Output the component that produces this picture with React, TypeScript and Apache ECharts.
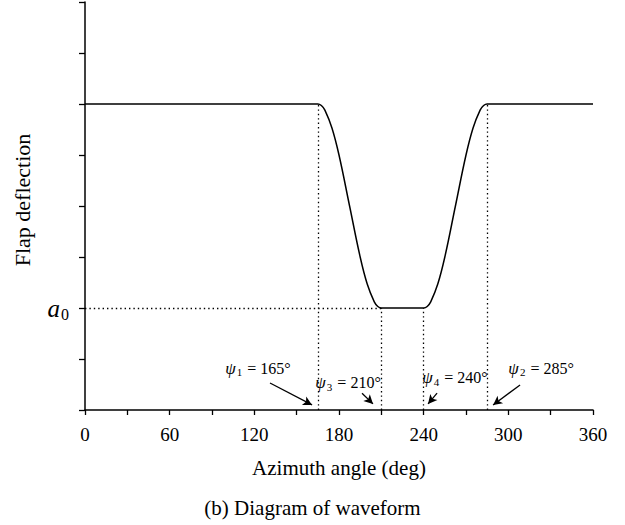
import React, { useEffect, useRef } from 'react';
import * as echarts from 'echarts';

// Waveform
const angles = [0, 165, 167.5, 170, 175, 180, 187.5, 195, 200, 205, 207.5, 210, 240, 242.5, 245, 250, 255, 262.5, 270, 275, 280, 282.5, 285, 360];
const deflection = [6, 6, 5.97, 5.88, 5.53, 5.0, 4.0, 3.0, 2.47, 2.12, 2.03, 2, 2, 2.03, 2.12, 2.47, 3.0, 4.0, 5.0, 5.53, 5.88, 5.97, 6, 6];

const xTickStep = 30;
const xLabelStep = 60;
const yTickStep = 1;
const a0Level = 2;

// Key angles psi_1..psi_4
const psiNames = ['1', '3', '4', '2'];
const psiAngles = [165, 210, 240, 285];
const psiLevels = [6, 2, 2, 6];
// annotation anchors (data coordinates)
const labelAt = [[122.6, 0.82], [186.4, 0.53], [262.2, 0.63], [323.2, 0.82]];
const arrowFrom = [[131.1, 0.53], [196.3, 0.33], [249.5, 0.33], [308.3, 0.49]];
const arrowTo = [[160.9, 0.1], [204.1, 0.12], [243.1, 0.12], [289.2, 0.1]];

const FONT = 'Liberation Serif';

export default function App() {
  const ref = useRef<HTMLDivElement>(null);
  useEffect(() => {
    document.body.style.margin = '0';
    if (!ref.current) return;
    const chart = echarts.init(ref.current, null, { renderer: 'svg' });
    const dotted = { type: [1.4, 3] as any, color: '#000', width: 1.3 };
    chart.setOption({
      animation: false,
      backgroundColor: '#fff',
      textStyle: { fontFamily: FONT, color: '#000' },
      title: {
        text: '(b) Diagram of waveform',
        left: 'center',
        top: 492,
        textStyle: { fontFamily: FONT, fontSize: 21, fontWeight: 'normal', color: '#000' },
      },
      grid: { left: 85, right: 32, top: 2, bottom: 115 },
      xAxis: {
        type: 'value',
        min: 0,
        max: 360,
        interval: xTickStep,
        name: 'Azimuth angle (deg)',
        nameLocation: 'middle',
        nameGap: 47,
        nameTextStyle: { fontFamily: FONT, fontSize: 21, color: '#000' },
        axisLine: { lineStyle: { color: '#000', width: 1.5 } },
        axisTick: { length: 5, lineStyle: { color: '#000', width: 1.3 } },
        axisLabel: {
          fontFamily: FONT,
          fontSize: 19,
          color: '#000',
          margin: 15,
          formatter: (v: number) => (v % xLabelStep === 0 ? String(v) : ''),
        },
        splitLine: { show: false },
      },
      yAxis: {
        type: 'value',
        min: 0,
        max: 8,
        interval: yTickStep,
        name: 'Flap deflection',
        nameLocation: 'middle',
        nameGap: 52,
        nameTextStyle: { fontFamily: FONT, fontSize: 22, color: '#000', padding: [0, 0, 0, 12] },
        axisLine: { lineStyle: { color: '#000', width: 1.5 } },
        axisTick: { length: 6, lineStyle: { color: '#000', width: 1.3 } },
        axisLabel: {
          margin: 16,
          formatter: (v: number) => (v === a0Level ? '{a|a}{s|0}' : ''),
          rich: {
            a: { fontFamily: FONT, fontStyle: 'italic', fontSize: 25, color: '#000' },
            s: { fontFamily: FONT, fontSize: 16, color: '#000', padding: [12, 0, 0, 1] },
          },
        },
        splitLine: { show: false },
      },
      series: [
        {
          type: 'line',
          data: angles.map((a, i) => [a, deflection[i]]),
          smooth: 0.4,
          symbol: 'none',
          lineStyle: { color: '#000', width: 1.5 },
          z: 5,
        },
        {
          type: 'line',
          data: [],
          markLine: {
            silent: true,
            symbol: ['none', 'none'],
            label: { show: false },
            lineStyle: dotted,
            data: [
              [{ coord: [0, a0Level] }, { coord: [psiAngles[1], a0Level] }],
              ...psiAngles.map((a, i) => [{ coord: [a, 0] }, { coord: [a, psiLevels[i]] }]),
            ],
          },
        },
        {
          type: 'line',
          data: [],
          markLine: {
            silent: true,
            symbol: ['none', 'arrow'],
            symbolSize: [7, 9],
            label: { show: false },
            lineStyle: { type: 'solid', color: '#000', width: 1.3 },
            data: arrowFrom.map((f, i) => [{ coord: f }, { coord: arrowTo[i] }]),
          },
          markPoint: {
            silent: true,
            symbol: 'circle',
            symbolSize: 0,
            itemStyle: { color: 'transparent' },
            label: {
              show: true,
              position: 'inside',
              formatter: (p: any) => `{p|ψ}{s|${p.name}}{t| = ${p.value}°}`,
              rich: {
                p: { fontFamily: FONT, fontStyle: 'italic', fontSize: 17, color: '#000' },
                s: { fontFamily: FONT, fontSize: 11, color: '#000', padding: [8, 1, 0, 1] },
                t: { fontFamily: FONT, fontSize: 16, color: '#000' },
              },
            },
            data: labelAt.map((c, i) => ({ name: psiNames[i], value: psiAngles[i], coord: c })),
          },
        },
      ],
    });
    return () => chart.dispose();
  }, []);
  return <div ref={ref} style={{ width: 625, height: 525 }} />;
}
